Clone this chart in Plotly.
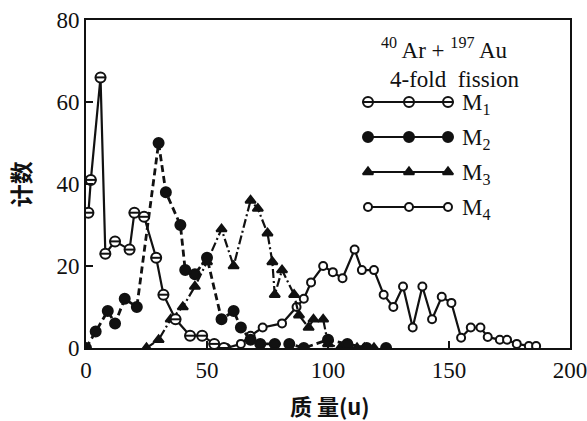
import plotly.graph_objects as go

# ---- data ----
m1_x = [1, 2, 6, 8, 12, 18, 20, 24, 29, 32, 37, 43, 48, 53, 57]
m1_y = [33, 41, 66, 23, 26, 24, 33, 32, 22, 13, 7, 3, 3, 1, 0]

m2_x = [0, 4, 9, 12, 16, 21, 30, 33, 39, 41, 45, 50, 56, 61, 64, 68, 72, 78, 84, 90, 100, 108, 116, 124]
m2_y = [0, 4, 9, 6, 12, 10, 50, 38, 30, 19, 18, 22, 7, 9, 5, 2, 1, 1, 1, 0, 2, 1, 0, 0]

m3_x = [25, 30, 35, 40, 45, 50, 56, 61, 68, 71, 75, 77, 78, 81, 86, 88, 92, 94, 98, 100, 105, 109, 112, 115, 119]
m3_y = [0, 2, 7, 10, 15, 21, 29, 20, 36, 34, 28, 21, 13, 19, 13, 8, 5, 7, 7, 1, 0, 0, 0, 0, 0]

m4_x = [58, 64, 68, 73, 81, 87, 90, 93, 98, 102, 106, 111, 114, 119, 123, 127, 131, 135, 139, 143,
        147, 151, 155, 159, 163, 166, 171, 174, 178, 183, 186]
m4_y = [0, 1, 3, 5, 6, 10, 12, 16, 20, 18.5, 17, 24, 19, 19, 13, 10, 15, 5, 15, 7,
        12.5, 11, 2.5, 5, 5, 2.7, 2, 2, 1, 0.5, 0.5]

x_ticks = [0, 50, 100, 150, 200]
y_ticks = [0, 20, 40, 60, 80]

series_names = ["M<sub>1</sub>", "M<sub>2</sub>", "M<sub>3</sub>", "M<sub>4</sub>"]
legend_title_1 = "<sup>40</sup> Ar + <sup>197</sup> Au"
legend_title_2 = "4-fold  fission"
x_title = "质 量(u)"
y_title = "计数"

# ---- styles ----
INK = "#111111"
SERIF = "Liberation Serif"
CJK = "Noto Sans CJK SC"
LW = 2.2

def mk(symbol, fill, size):
    return dict(symbol=symbol, color=fill, size=size, line=dict(color=INK, width=2))

styles = {
    "M1": dict(line=dict(color=INK, width=LW), marker=mk("circle", "white", 10)),
    "M2": dict(line=dict(color=INK, width=LW + 0.6, dash="7px,4px"), marker=mk("circle", INK, 10)),
    "M3": dict(line=dict(color=INK, width=LW, dash="9px,3px,2px,3px"), marker=mk("triangle-up", INK, 9)),
    "M4": dict(line=dict(color=INK, width=LW), marker=mk("circle", "white", 8)),
}
bar_marker = dict(symbol="line-ew", size=8, color=INK, line=dict(color=INK, width=2))

fig = go.Figure()
fig.add_trace(go.Scatter(x=m4_x, y=m4_y, mode="lines+markers", showlegend=False, **styles["M4"]))
fig.add_trace(go.Scatter(x=m3_x, y=m3_y, mode="lines+markers", showlegend=False, **styles["M3"]))
fig.add_trace(go.Scatter(x=m2_x, y=m2_y, mode="lines+markers", showlegend=False, **styles["M2"]))
fig.add_trace(go.Scatter(x=m1_x, y=m1_y, mode="lines+markers", showlegend=False, **styles["M1"]))
fig.add_trace(go.Scatter(x=m1_x, y=m1_y, mode="markers", showlegend=False, marker=bar_marker))

# ---- custom legend drawn on a pixel-coordinate overlay axis ----
PL, PR, PT, PB = 86, 570, 20, 348
sample_x = [368, 409, 448]
row_y = [102, 137, 172, 207]
keys = ["M1", "M2", "M3", "M4"]
for key, yy in zip(keys, row_y):
    st = dict(styles[key])
    st["line"] = dict(color=INK, width=LW)
    fig.add_trace(go.Scatter(x=sample_x, y=[yy] * 3, mode="lines+markers", xaxis="x2", yaxis="y2",
                             showlegend=False, hoverinfo="skip", **st))
    if key == "M1":
        fig.add_trace(go.Scatter(x=sample_x, y=[yy] * 3, mode="markers", xaxis="x2", yaxis="y2",
                                 showlegend=False, hoverinfo="skip", marker=bar_marker))

annotations = [
    dict(x=444, y=48, xref="x2", yref="y2", text=legend_title_1, showarrow=False,
         font=dict(family=SERIF, size=23, color=INK)),
    dict(x=455, y=79, xref="x2", yref="y2", text=legend_title_2, showarrow=False,
         font=dict(family=SERIF, size=23, color=INK)),
]
for name, yy in zip(series_names, row_y):
    annotations.append(dict(x=460, y=yy + 2, xref="x2", yref="y2", text=name, showarrow=False,
                            xanchor="left", font=dict(family=SERIF, size=23, color=INK)))
annotations.append(dict(x=0.504, y=-0.175, xref="paper", yref="paper", text=x_title, showarrow=False,
                        xanchor="center", yanchor="middle",
                        font=dict(family=CJK, size=22, color=INK, weight="bold")))
annotations.append(dict(x=-0.136, y=0.5, xref="paper", yref="paper", text=y_title, showarrow=False,
                        xanchor="center", yanchor="middle", textangle=-90,
                        font=dict(family=CJK, size=23, color=INK, weight="bold")))

axis_common = dict(showline=True, linecolor=INK, linewidth=2, mirror=True, ticks="inside",
                   ticklen=7, tickwidth=2, tickcolor=INK, showgrid=False, zeroline=False,
                   ticklabeloverflow="allow", automargin=False,
                   tickfont=dict(family=SERIF, size=23, color=INK))

fig.update_layout(
    width=587, height=421,
    margin=dict(l=PL, r=587 - PR, t=PT, b=421 - PB, autoexpand=False),
    paper_bgcolor="white", plot_bgcolor="white",
    xaxis=dict(range=[0, 200], tickvals=x_ticks, **axis_common),
    yaxis=dict(range=[0, 80], tickvals=y_ticks, **axis_common),
    xaxis2=dict(range=[PL, PR], overlaying="x", visible=False, domain=[0, 1]),
    yaxis2=dict(range=[PB, PT], overlaying="y", visible=False, domain=[0, 1]),
    annotations=annotations,
)

fig.write_html("out.html", config={"displayModeBar": False},
               post_script="document.body.style.margin='0';document.body.style.overflow='hidden';")
